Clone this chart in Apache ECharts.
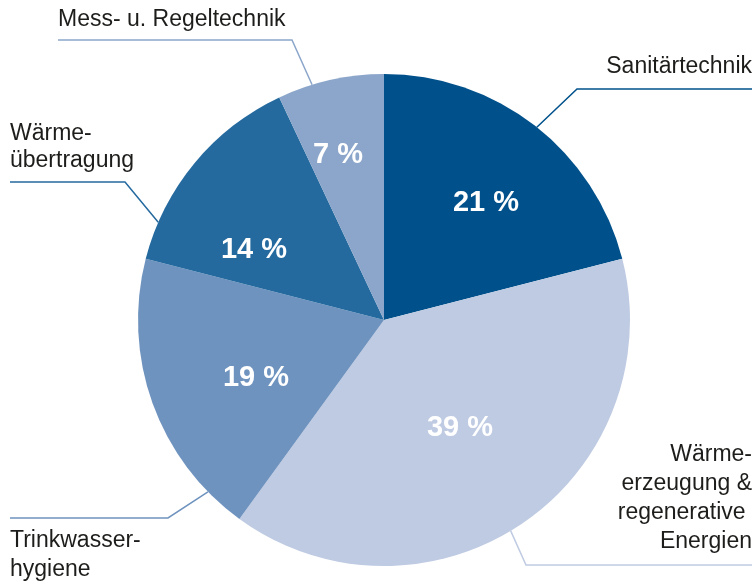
<!DOCTYPE html>
<html>
<head>
<meta charset="utf-8">
<script src="https://cdn.jsdelivr.net/npm/echarts@6/dist/echarts.min.js"></script>
<style>
  html, body { margin: 0; padding: 0; background: #fff; }
  #chart { width: 756px; height: 582px; }
</style>
</head>
<body>
<div id="chart"></div>
<script>
// Segment names (clockwise from 12 o'clock) and their shares in percent
const categories = [
  'Sanitärtechnik',
  'Wärme-\nerzeugung &\nregenerative \nEnergien',
  'Trinkwasser-\nhygiene',
  'Wärme-\nübertragung',
  'Mess- u. Regeltechnik'
];
const shares = [21, 39, 19, 14, 7];
const colors = ['#00518b', '#bfcbe2', '#6f93bf', '#246a9f', '#8ba6ca'];

// Geometry of the pie
const CX = 384, CY = 320, R = 246;

// Percentage labels: offset from the pie centre
const innerOffsets = [[102, -117], [76, 108], [-128, 58], [-130, -70], [-46, -165]];

// Category labels: anchor, alignment, line height, and leader line
// (start angle on the rim in degrees clockwise from top, knee, end)
const outerLayout = [
  { x: 752, y: 67,  align: 'right', lh: 28, angle: 38.4,  knee: [577, 89],  end: [752, 89] },
  { x: 752, y: 498, align: 'right', lh: 29, angle: 149,   knee: [526, 565], end: [752, 565] },
  { x: 10,  y: 555, align: 'left',  lh: 29, angle: 225.7, knee: [168, 518], end: [10, 518] },
  { x: 10,  y: 147, align: 'left',  lh: 27, angle: 293.4, knee: [125, 182], end: [10, 182] },
  { x: 58,  y: 20,  align: 'left',  lh: 28, angle: 343,   knee: [292, 40],  end: [58, 40] }
];

function rimPoint(deg) {
  const a = deg * Math.PI / 180;
  return [CX + R * Math.sin(a), CY - R * Math.cos(a)];
}

const FONT = "'Liberation Sans', Arial, Helvetica, sans-serif";

const slices = categories.map((name, i) => ({
  name: name,
  value: shares[i],
  itemStyle: { color: colors[i] }
}));

const overlay = categories.map((name, i) => ({
  name: name,
  value: shares[i],
  itemStyle: { color: 'rgba(0,0,0,0)' },
  label: { lineHeight: outerLayout[i].lh, align: outerLayout[i].align },
  labelLine: { lineStyle: { color: colors[i] } }
}));

const chart = echarts.init(document.getElementById('chart'), null, { renderer: 'canvas' });

chart.setOption({
  animation: false,
  backgroundColor: '#ffffff',
  series: [
    {
      type: 'pie',
      center: [CX, CY],
      radius: [0, R],
      startAngle: 90,
      clockwise: true,
      silent: true,
      itemStyle: { borderWidth: 0 },
      data: slices,
      label: {
        show: true,
        position: 'inside',
        formatter: p => p.value + ' %',
        color: '#ffffff',
        fontFamily: FONT,
        fontWeight: 'bold',
        fontSize: 29
      },
      labelLine: { show: false },
      labelLayout: function (params) {
        const o = innerOffsets[params.dataIndex];
        return { x: CX + o[0], y: CY + o[1], align: 'center', verticalAlign: 'middle' };
      }
    },
    {
      type: 'pie',
      center: [CX, CY],
      radius: [0, R],
      startAngle: 90,
      clockwise: true,
      silent: true,
      z: 3,
      data: overlay,
      label: {
        show: true,
        position: 'outside',
        overflow: 'none',
        width: 400,
        formatter: p => p.name,
        color: '#1d1d1b',
        fontFamily: FONT,
        fontSize: 23
      },
      labelLine: {
        show: true,
        length: 20,
        length2: 20,
        lineStyle: { width: 1.5 }
      },
      labelLayout: function (params) {
        const L = outerLayout[params.dataIndex];
        return {
          x: L.x,
          y: L.y,
          align: L.align,
          verticalAlign: 'middle',
          labelLinePoints: [rimPoint(L.angle), L.knee.slice(), L.end.slice()]
        };
      }
    }
  ]
});
</script>
</body>
</html>
